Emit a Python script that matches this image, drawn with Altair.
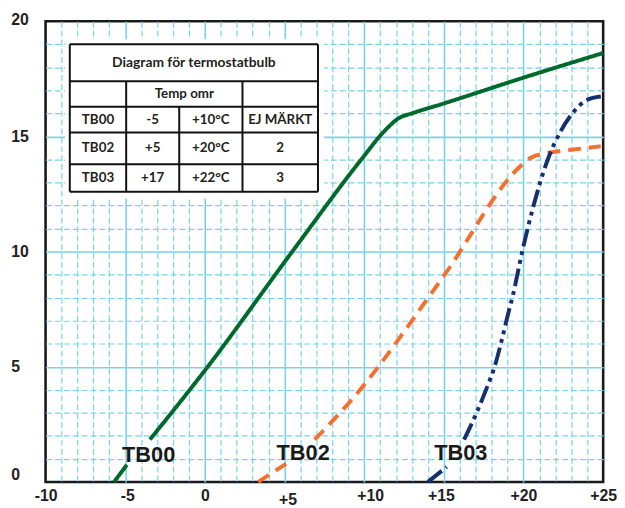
import altair as alt
import pandas as pd

# ---------------- data ----------------
series_names = ["TB00", "TB02", "TB03"]
series_colors = ["#006a2c", "#f4702f", "#16306f"]

# each curve is broken where its label sits: segment a (below label) and b (above)
tb00_x_a = [-5.7, -4.9]
tb00_y_a = [0.0, 0.74]
tb00_x_b = [-3.45, -1.38, 0.0, 5.55, 9.9, 11.24, 12.17, 13.0, 15.0, 20.0, 25.0]
tb00_y_b = [1.84, 3.62, 4.84, 10.06, 14.07, 15.21, 15.79, 16.0, 16.43, 17.55, 18.62]

tb02_x_a = [3.35, 4.2, 5.09]
tb02_y_a = [0.0, 0.38, 0.79]
tb02_x_b = [6.9, 9.38, 14.97, 19.94, 20.46, 21.5, 23.15, 24.85]
tb02_y_b = [1.84, 3.7, 8.92, 13.79, 14.07, 14.28, 14.43, 14.57]

tb03_x_a = [14.0, 15.18]
tb03_y_a = [0.0, 0.65]
tb03_x_b = [16.27, 17.04, 17.76, 18.18, 18.6, 19.0, 19.32, 19.94, 20.66,
            21.49, 22.32, 23.15, 23.98, 24.85]
tb03_y_b = [1.84, 2.98, 4.2, 4.99, 6.06, 7.2, 8.06, 10.06, 12.07,
            13.93, 15.21, 16.07, 16.58, 16.73]

label_x = [-3.53, 6.17, 16.06]
label_y = [1.16, 1.24, 1.24]

x_ticks = list(range(-10, 26))
y_ticks = list(range(0, 21))

table_title = "Diagram för termostatbulb"
table_sub = "Temp omr"
table_cells = [
    ["TB00", "-5", "+10°C", "EJ MÄRKT"],
    ["TB02", "+5", "+20°C", "2"],
    ["TB03", "+17", "+22°C", "3"],
]
# table layout (data units)
tcols = [-8.48, -4.94, -1.61, 2.36, 7.1]
trows = [19.0, 17.39, 16.29, 15.17, 13.79, 12.6]

# ---------------- build tables ----------------
rows = []
for name, segs in [
    ("TB00", [(tb00_x_a, tb00_y_a), (tb00_x_b, tb00_y_b)]),
    ("TB02", [(tb02_x_a, tb02_y_a), (tb02_x_b, tb02_y_b)]),
    ("TB03", [(tb03_x_a, tb03_y_a), (tb03_x_b, tb03_y_b)]),
]:
    for i, (xl, yl) in enumerate(segs):
        for xv, yv in zip(xl, yl):
            rows.append({"series": name, "seg": f"{name}-{i}", "x": xv, "y": yv})
lines_df = pd.DataFrame(rows)

labels_df = pd.DataFrame({"x": label_x, "y": label_y, "text": series_names})

GRID = "#78d2ee"
INK = "#222222"
xs = alt.Scale(domain=[-10, 25], nice=False, zero=False)
ys = alt.Scale(domain=[0, 20], nice=False, zero=False)

is5 = "datum.value % 5 === 0"

x_axis = alt.Axis(
    values=x_ticks, grid=True, gridColor=GRID,
    gridDash={"condition": {"test": is5, "value": [1, 0]}, "value": [6, 3]},
    gridWidth={"condition": {"test": is5, "value": 1.6}, "value": 1.2},
    gridOpacity={"condition": {"test": "datum.value === -10 || datum.value === 25", "value": 0}, "value": 1},
    domain=False, ticks=False,
    labelExpr="datum.value % 5 === 0 ? (datum.value > 0 ? '+' + datum.value : '' + datum.value) : ''",
    labelFont="Liberation Sans", labelFontSize=16, labelFontWeight="bold", labelColor=INK,
    labelBaseline="middle",
    labelPadding={"condition": {"test": "datum.value === 5", "value": 17.5}, "value": 13.5},
    labelOffset={"condition": [{"test": "datum.value === 10", "value": 6},
                               {"test": "datum.value === 5", "value": 3},
                               {"test": "datum.value === -5", "value": 2},
                               {"test": "datum.value === 15", "value": -3}], "value": 0},
    labelFlush=False, labelOverlap=False, labelBound=False, title=None,
)
y_axis = alt.Axis(
    values=y_ticks, grid=True, gridColor=GRID,
    gridDash={"condition": {"test": is5, "value": [1, 0]}, "value": [6, 3]},
    gridWidth={"condition": {"test": is5, "value": 1.6}, "value": 1.2},
    gridOpacity={"condition": {"test": "datum.value === 0 || datum.value === 20", "value": 0}, "value": 1},
    domain=False, ticks=False,
    labelExpr="datum.value % 5 === 0 ? '' + datum.value : ''",
    labelFont="Liberation Sans", labelFontSize=16, labelFontWeight="bold", labelColor=INK,
    labelAlign="left", labelBaseline="middle", labelPadding=35.3,
    labelOffset={"condition": [{"test": "datum.value === 0", "value": -7},
                               {"test": "datum.value === 20", "value": -2}], "value": 0},
    labelFlush=False, labelOverlap=False, labelBound=False, title=None,
)


def X(field):
    return alt.X(field, scale=xs, axis=x_axis, title=None)


def Y(field):
    return alt.Y(field, scale=ys, axis=y_axis, title=None)


lines = alt.Chart(lines_df).mark_line(interpolate="monotone", strokeWidth=4, strokeCap="butt").encode(
    x=X("x:Q"), y=Y("y:Q"),
    color=alt.Color("series:N", scale=alt.Scale(domain=series_names, range=series_colors), legend=None),
    strokeDash=alt.StrokeDash("series:N", scale=alt.Scale(domain=series_names,
                              range=[[1, 0], [13, 8], [18, 5, 4, 5, 4, 5]]), legend=None),
    detail="seg:N",
)

curve_labels = alt.Chart(labels_df).mark_text(
    font="Liberation Sans", fontSize=22, fontWeight="bold", color="#1a1a1a", baseline="middle"
).encode(x=X("x:Q"), y=Y("y:Q"), text="text:N")

# table background
bg_df = pd.DataFrame({"x": [tcols[0] - 0.3], "x2": [tcols[-1] + 0.38],
                      "y": [trows[0] + 0.22], "y2": [trows[-1] - 0.3]})
table_bg = alt.Chart(bg_df).mark_rect(fill="white").encode(
    x=X("x:Q"), x2="x2:Q", y=Y("y:Q"), y2="y2:Q",
)

rule_rows = []
for r in trows:
    rule_rows.append({"x": tcols[0], "x2": tcols[-1], "y": r, "y2": r})
for c in [tcols[0], tcols[-1]]:
    rule_rows.append({"x": c, "x2": c, "y": trows[0], "y2": trows[-1]})
rule_rows.append({"x": tcols[1], "x2": tcols[1], "y": trows[1], "y2": trows[-1]})
rule_rows.append({"x": tcols[2], "x2": tcols[2], "y": trows[2], "y2": trows[-1]})
rule_rows.append({"x": tcols[3], "x2": tcols[3], "y": trows[1], "y2": trows[-1]})
rules_df = pd.DataFrame(rule_rows)
table_rules = alt.Chart(rules_df).mark_rule(color="#111111", strokeWidth=2).encode(
    x=X("x:Q"), x2="x2:Q", y=Y("y:Q"), y2="y2:Q",
)

head_df = pd.DataFrame([
    {"x": (tcols[0] + tcols[-1]) / 2, "y": (trows[0] + trows[1]) / 2, "text": table_title},
])
txt_rows = [
    {"x": (tcols[1] + tcols[3]) / 2, "y": (trows[1] + trows[2]) / 2, "text": table_sub},
]
for ri, row in enumerate(table_cells):
    for ci, val in enumerate(row):
        txt_rows.append({"x": (tcols[ci] + tcols[ci + 1]) / 2,
                         "y": (trows[ri + 2] + trows[ri + 3]) / 2, "text": val})
txt_df = pd.DataFrame(txt_rows)
table_head = alt.Chart(head_df).mark_text(
    font="Lato", fontSize=14, fontWeight="bold", color="#231f20", baseline="middle"
).encode(x=X("x:Q"), y=Y("y:Q"), text="text:N")
table_text = alt.Chart(txt_df).mark_text(
    font="Lato", fontSize=13.5, fontWeight="bold", color="#231f20", baseline="middle"
).encode(x=X("x:Q"), y=Y("y:Q"), text="text:N")

chart = alt.layer(lines, table_bg, curve_labels, table_rules, table_head, table_text).properties(
    width=564, height=466,
    autosize=alt.AutoSizeParams(type="none"),
    padding={"left": 38, "top": 10.5, "right": 14, "bottom": 22},
).configure_view(stroke="#1a1a1a", strokeWidth=2.6)

chart.save("out.html", embed_options={"renderer": "svg", "actions": False})
